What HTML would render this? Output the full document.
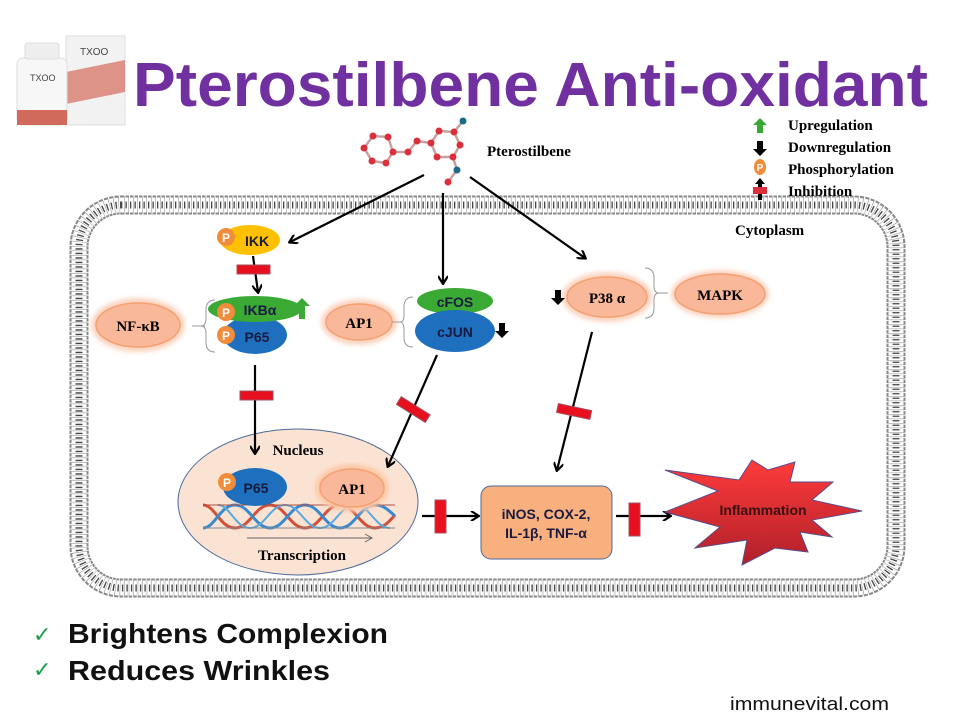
<!DOCTYPE html>
<html><head><meta charset="utf-8"><style>
html,body{margin:0;padding:0;background:#fff;}
svg{display:block;}
.tb{font-family:"Liberation Serif",serif;font-weight:bold;}
.sb{font-family:"Liberation Sans",sans-serif;font-weight:bold;}
</style></head><body>
<svg width="960" height="720" viewBox="0 0 960 720" xmlns="http://www.w3.org/2000/svg">
<defs>
<marker id="ah" markerWidth="10" markerHeight="10" refX="8" refY="5" orient="auto" markerUnits="userSpaceOnUse">
<path d="M1,0 L9,5 L1,10" fill="none" stroke="#000" stroke-width="2.2"/>
</marker>
<filter id="glow" x="-30%" y="-40%" width="160%" height="180%"><feGaussianBlur stdDeviation="2.5"/></filter>
<linearGradient id="inf" x1="0" y1="0" x2="0" y2="1">
<stop offset="0" stop-color="#ff3b3b"/><stop offset="1" stop-color="#b0202a"/>
</linearGradient>
</defs>

<!-- product -->
<rect x="66" y="36" width="59" height="89" fill="#f2f2f2" stroke="#ddd"/>
<path d="M66,72 L125,60 L125,92 L66,104Z" fill="#d77a6c" opacity="0.8"/>
<text x="80" y="55" font-family="Liberation Sans,sans-serif" font-size="10" fill="#444">TXOO</text>
<rect x="17" y="58" width="50" height="67" rx="6" fill="#f7f7f7" stroke="#ddd"/>
<rect x="25" y="43" width="34" height="16" rx="3" fill="#eee" stroke="#ddd"/>
<rect x="17" y="110" width="50" height="15" fill="#d26a5c"/>
<text x="30" y="81" font-family="Liberation Sans,sans-serif" font-size="9" fill="#444">TXOO</text>

<text x="133" y="106" class="sb" font-size="62" fill="#7030a0" textLength="795" lengthAdjust="spacingAndGlyphs">Pterostilbene Anti-oxidant</text>

<!-- membrane -->
<rect x="79" y="205" width="817" height="383" rx="42" fill="none" stroke="#888" stroke-width="19" stroke-dasharray="3.5 1"/>
<rect x="79" y="205" width="817" height="383" rx="42" fill="none" stroke="#fff" stroke-width="15" stroke-dasharray="3 1.5"/>
<rect x="79" y="205" width="817" height="383" rx="42" fill="none" stroke="#444" stroke-width="7" stroke-dasharray="1.3 3.2"/>

<!-- molecule -->
<g stroke="#c9a0a0" stroke-width="2.5" fill="none">
<polyline points="373,136 388,137 393,152 386,163 372,161 364,148 373,136"/>
<polyline points="393,152 408,152 417,141 431,143 439,131 454,132 460,145 453,157 437,157 431,143"/>
<polyline points="454,132 463,121"/><polyline points="453,157 457,170 448,182"/>
</g>
<g fill="#d9303c">
<circle cx="373" cy="136" r="3.5"/><circle cx="388" cy="137" r="3.5"/><circle cx="393" cy="152" r="3.5"/><circle cx="386" cy="163" r="3.5"/><circle cx="372" cy="161" r="3.5"/><circle cx="364" cy="148" r="3.5"/>
<circle cx="408" cy="152" r="3.5"/><circle cx="417" cy="141" r="3.5"/><circle cx="431" cy="143" r="3.5"/><circle cx="439" cy="131" r="3.5"/><circle cx="454" cy="132" r="3.5"/><circle cx="460" cy="145" r="3.5"/><circle cx="453" cy="157" r="3.5"/><circle cx="437" cy="157" r="3.5"/><circle cx="448" cy="182" r="3.5"/>
</g>
<circle cx="463" cy="121" r="3.5" fill="#1a6a8a"/><circle cx="457" cy="170" r="3.5" fill="#1a6a8a"/>
<text x="487" y="156" class="tb" font-size="15">Pterostilbene</text>

<!-- legend -->
<path d="M760,118 L767,125 L763,125 L763,133 L757,133 L757,125 L753,125Z" fill="#3aaa35"/>
<path d="M760,156 L767,149 L763,149 L763,141 L757,141 L757,149 L753,149Z" fill="#000"/>
<ellipse cx="760" cy="167" rx="6" ry="8" fill="#f08c3a"/><text x="760" y="171" text-anchor="middle" class="sb" font-size="10" fill="#fff">P</text>
<path d="M760,178 L765,184 L762,184 L762,200 L758,200 L758,184 L755,184Z" fill="#000"/>
<rect x="753" y="187" width="14" height="7" fill="#d9303c"/>
<text x="788" y="130" class="tb" font-size="15">Upregulation</text>
<text x="788" y="152" class="tb" font-size="15">Downregulation</text>
<text x="788" y="174" class="tb" font-size="15">Phosphorylation</text>
<text x="788" y="196" class="tb" font-size="15">Inhibition</text>

<text x="735" y="235" class="tb" font-size="15">Cytoplasm</text>

<!-- nucleus background -->
<ellipse cx="298" cy="502" rx="120" ry="73" fill="#fbe3d4" stroke="#4a6a9a" stroke-width="1"/>

<!-- arrows -->
<g stroke="#000" stroke-width="2.2" fill="none" marker-end="url(#ah)">
<line x1="424" y1="175" x2="290" y2="242"/>
<line x1="443" y1="193" x2="443" y2="283"/>
<line x1="470" y1="177" x2="585" y2="258"/>
<line x1="253" y1="256" x2="258" y2="292"/>
<line x1="255" y1="365" x2="255" y2="453"/>
<line x1="437" y1="355" x2="388" y2="466"/>
<line x1="592" y1="332" x2="557" y2="470"/>
<line x1="422" y1="516" x2="478" y2="516"/>
<line x1="616" y1="516" x2="670" y2="516"/>
</g>

<!-- IKK -->
<ellipse cx="250" cy="240" rx="30" ry="15" fill="#ffc000"/>
<text x="257" y="246" text-anchor="middle" class="sb" font-size="14" fill="#1a1a40">IKK</text>
<circle cx="226" cy="237" r="9" fill="#f08c3a"/><text x="226" y="242" text-anchor="middle" class="sb" font-size="12" fill="#fff">P</text>
<rect x="237" y="265" width="33" height="9" fill="#e8101e" stroke="#a05060"/>

<!-- NF-kB group -->
<ellipse cx="138" cy="325" rx="47" ry="27" fill="#fbd3bf" filter="url(#glow)"/>
<ellipse cx="138" cy="325" rx="42" ry="22" fill="#f9b89a" stroke="#f5a070" stroke-width="1.5"/>
<text x="138" y="331" text-anchor="middle" class="tb" font-size="15">NF-κB</text>
<path d="M192,326 L205,326 M215,300 Q206,300 206,310 L206,318 Q206,326 201,326 Q206,326 206,334 L206,342 Q206,352 215,352" fill="none" stroke="#999" stroke-width="1"/>
<ellipse cx="255" cy="335" rx="32" ry="19" fill="#1f6fbf"/>
<ellipse cx="255" cy="309" rx="47" ry="13" fill="#3aaa35"/>
<path d="M302,298 L310,306 L305,306 L305,319 L299,319 L299,306 L294,306Z" fill="#3aaa35"/>
<text x="260" y="315" text-anchor="middle" class="sb" font-size="14" fill="#1a1a40">IKBα</text>
<text x="257" y="342" text-anchor="middle" class="sb" font-size="14" fill="#1a1a40">P65</text>
<circle cx="226" cy="312" r="9" fill="#f08c3a"/><text x="226" y="317" text-anchor="middle" class="sb" font-size="12" fill="#fff">P</text>
<circle cx="226" cy="335" r="9" fill="#f08c3a"/><text x="226" y="340" text-anchor="middle" class="sb" font-size="12" fill="#fff">P</text>
<rect x="240" y="391" width="33" height="9" fill="#e8101e" stroke="#a05060"/>

<!-- AP1 group -->
<ellipse cx="359" cy="322" rx="38" ry="23" fill="#fbd3bf" filter="url(#glow)"/>
<ellipse cx="359" cy="322" rx="33" ry="18" fill="#f9b89a" stroke="#f5a070" stroke-width="1.5"/>
<text x="359" y="328" text-anchor="middle" class="tb" font-size="15">AP1</text>
<path d="M392,322 L401,322 M413,297 Q404,297 404,307 L404,315 Q404,322 400,322 Q404,322 404,330 L404,338 Q404,347 413,347" fill="none" stroke="#999" stroke-width="1"/>
<ellipse cx="455" cy="301" rx="38" ry="13" fill="#3aaa35"/>
<ellipse cx="455" cy="331" rx="40" ry="21" fill="#1f6fbf"/>
<text x="455" y="307" text-anchor="middle" class="sb" font-size="14" fill="#1a1a40">cFOS</text>
<text x="455" y="337" text-anchor="middle" class="sb" font-size="14" fill="#1a1a40">cJUN</text>
<path d="M502,338 L509,331 L505,331 L505,323 L499,323 L499,331 L495,331Z" fill="#000"/>
<rect x="396" y="405" width="34" height="9" fill="#e8101e" stroke="#a05060" transform="rotate(32 413 410)"/>

<!-- P38 / MAPK -->
<ellipse cx="607" cy="297" rx="45" ry="25" fill="#fbd3bf" filter="url(#glow)"/>
<ellipse cx="607" cy="297" rx="40" ry="20" fill="#f9b89a" stroke="#f5a070" stroke-width="1.5"/>
<text x="607" y="303" text-anchor="middle" class="tb" font-size="15">P38 α</text>
<path d="M558,305 L565,298 L561,298 L561,290 L555,290 L555,298 L551,298Z" fill="#000"/>
<path d="M645,268 Q654,268 654,278 L654,286 Q654,293 659,293 Q654,293 654,300 L654,308 Q654,318 645,318 M659,293 L668,293" fill="none" stroke="#999" stroke-width="1"/>
<ellipse cx="720" cy="294" rx="49" ry="24" fill="#fbd3bf" filter="url(#glow)"/>
<ellipse cx="720" cy="294" rx="45" ry="20" fill="#f9b89a" stroke="#f5a070" stroke-width="1.5"/>
<text x="720" y="300" text-anchor="middle" class="tb" font-size="15">MAPK</text>
<rect x="557" y="407" width="34" height="9" fill="#e8101e" stroke="#a05060" transform="rotate(12 574 412)"/>

<!-- nucleus content -->
<text x="298" y="455" text-anchor="middle" class="tb" font-size="15">Nucleus</text>
<g fill="none" stroke-width="3">
<path d="M203,505 C215,505 220,528 235,528 C250,528 255,505 270,505 C285,505 290,528 305,528 C320,528 325,505 340,505 C355,505 360,528 375,528 C385,528 390,520 395,515" stroke="#d0503a"/>
<path d="M203,528 C215,528 220,505 235,505 C250,505 255,528 270,528 C285,528 290,505 305,505 C320,505 325,528 340,528 C355,528 360,505 375,505 C385,505 390,512 395,516" stroke="#3a8ad0"/>
<path d="M218,505 C230,505 235,528 250,528 C265,528 270,505 285,505 C300,505 305,528 320,528 C335,528 340,505 355,505 C370,505 375,528 390,528" stroke="#58a8e0" stroke-width="2"/>
</g>
<line x1="203" y1="505" x2="395" y2="505" stroke="#b05040" stroke-width="1"/>
<line x1="203" y1="528" x2="395" y2="528" stroke="#888" stroke-width="1"/>
<ellipse cx="255" cy="487" rx="32" ry="19" fill="#1f6fbf"/>
<text x="256" y="493" text-anchor="middle" class="sb" font-size="14" fill="#1a1a40">P65</text>
<circle cx="227" cy="482" r="9" fill="#f08c3a"/><text x="227" y="487" text-anchor="middle" class="sb" font-size="12" fill="#fff">P</text>
<ellipse cx="352" cy="488" rx="37" ry="24" fill="#fbc9a8" filter="url(#glow)"/>
<ellipse cx="352" cy="488" rx="32" ry="19" fill="#f9b89a" stroke="#f5a070" stroke-width="1.5"/>
<text x="352" y="494" text-anchor="middle" class="tb" font-size="15">AP1</text>
<line x1="247" y1="538" x2="372" y2="538" stroke="#666" stroke-width="1"/>
<path d="M365,534 L372,538 L365,542" fill="none" stroke="#666" stroke-width="1"/>
<text x="302" y="560" text-anchor="middle" class="tb" font-size="15">Transcription</text>

<rect x="435" y="500" width="11" height="33" fill="#e8101e" stroke="#a05060"/>
<rect x="481" y="486" width="131" height="73" rx="10" fill="#f8b07f" stroke="#4a6a9a"/>
<text x="546" y="519" text-anchor="middle" class="sb" font-size="14" fill="#1a1a40">iNOS, COX-2,</text>
<text x="546" y="538" text-anchor="middle" class="sb" font-size="14" fill="#1a1a40">IL-1β, TNF-α</text>
<rect x="629" y="503" width="11" height="33" fill="#e8101e" stroke="#a05060"/>

<!-- inflammation star -->
<polygon points="665,512 718,491 665,470 739,480 752,460 768,470 795,462 790,482 833,482 812,500 862,511 812,520 832,537 800,532 808,552 775,548 742,565 747,540 695,548 720,527" fill="url(#inf)" stroke="#5a4a8a" stroke-width="1"/>
<text x="763" y="515" text-anchor="middle" class="sb" font-size="14" fill="#3a1010">Inflammation</text>

<!-- bottom text -->
<text x="33" y="642" font-family="DejaVu Sans,sans-serif" font-size="22" fill="#1aa04a">✓</text>
<text x="33" y="677" font-family="DejaVu Sans,sans-serif" font-size="22" fill="#1aa04a">✓</text>
<text x="68" y="643" class="sb" font-size="28" fill="#111" textLength="320" lengthAdjust="spacingAndGlyphs">Brightens Complexion</text>
<text x="68" y="680" class="sb" font-size="28" fill="#111" textLength="262" lengthAdjust="spacingAndGlyphs">Reduces Wrinkles</text>
<text x="730" y="710" font-family="Liberation Sans,sans-serif" font-size="18" fill="#111" textLength="159" lengthAdjust="spacingAndGlyphs">immunevital.com</text>
</svg>
</body></html>
